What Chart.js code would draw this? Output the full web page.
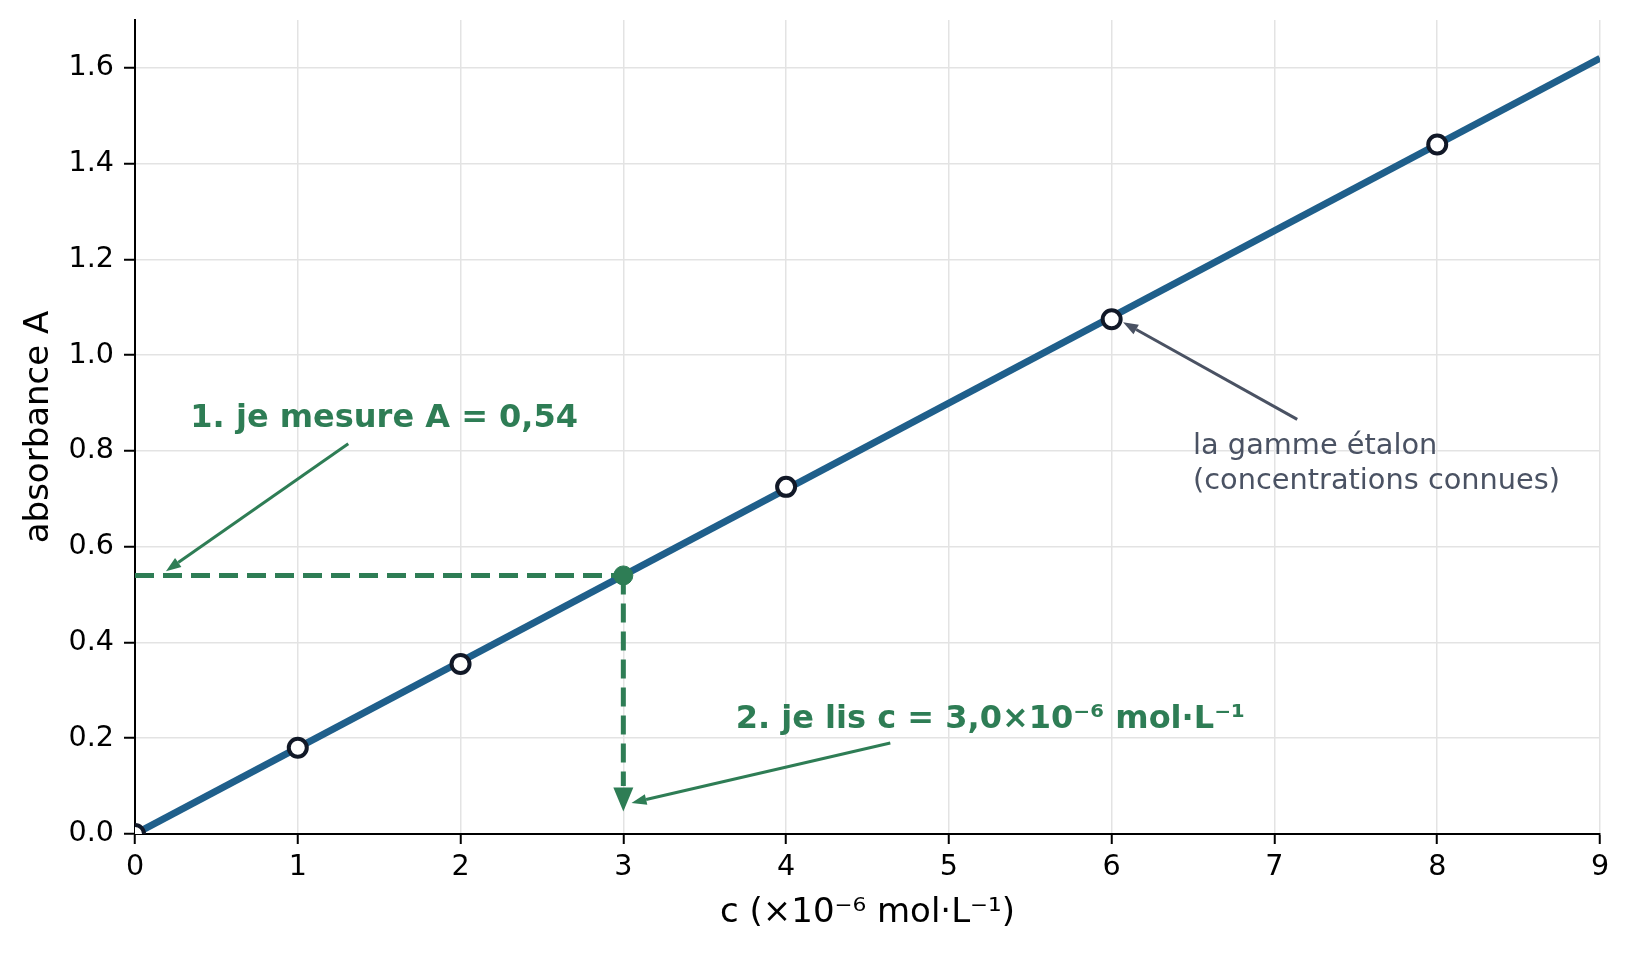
<!DOCTYPE html>
<html><head><meta charset="utf-8">
<script src="https://cdn.jsdelivr.net/npm/chart.js@4"></script>
<style>html,body{margin:0;padding:0;background:#fff}#wrap{width:1631px;height:953px;position:relative}</style>
</head><body><div id="wrap"><canvas id="c"></canvas></div>
<script>
// ---- data ----
const concentrations = [0, 1, 2, 4, 6, 8];
const absorbances = [0, 0.18, 0.355, 0.725, 1.075, 1.44];
const fitX = [0, 9];
const fitY = [0, 1.62];
const measuredA = 0.54;
const readC = 3.0;
const xTicks = [0, 1, 2, 3, 4, 5, 6, 7, 8, 9];
const yTicks = [0, 0.2, 0.4, 0.6, 0.8, 1.0, 1.2, 1.4, 1.6];
const xLabel = 'c (×10⁻⁶ mol·L⁻¹)';
const yLabel = 'absorbance A';
const note1 = '1. je mesure A = 0,54';
const note2 = '2. je lis c = 3,0×10⁻⁶ mol·L⁻¹';
const note3 = ['la gamme étalon', '(concentrations connues)'];

// ---- styles ----
const FONT = 'DejaVu Sans';
const BLUE = '#1f5f8b';
const GREEN = '#2e7d55';
const GRAY = '#4a5263';
const DARK = '#111827';

function arrow(ctx, x1, y1, x2, y2, color, lw, headLen, headW) {
  const ang = Math.atan2(y2 - y1, x2 - x1);
  const bx = x2 - headLen * Math.cos(ang), by = y2 - headLen * Math.sin(ang);
  ctx.save();
  ctx.strokeStyle = color; ctx.fillStyle = color; ctx.lineWidth = lw; ctx.setLineDash([]);
  if (lw > 0) { ctx.beginPath(); ctx.moveTo(x1, y1); ctx.lineTo(bx, by); ctx.stroke(); }
  ctx.beginPath(); ctx.moveTo(x2, y2);
  ctx.lineTo(bx + headW / 2 * Math.sin(ang), by - headW / 2 * Math.cos(ang));
  ctx.lineTo(bx - headW / 2 * Math.sin(ang), by + headW / 2 * Math.cos(ang));
  ctx.closePath(); ctx.fill();
  ctx.restore();
}

const notesPlugin = {
  id: 'notes',
  afterDatasetsDraw(chart) {
    const ctx = chart.ctx, xs = chart.scales.x, ys = chart.scales.y;
    const px = v => xs.getPixelForValue(v), py = v => ys.getPixelForValue(v);
    // arrow head of vertical dashed reading line
    arrow(ctx, px(readC), py(0.12), px(readC), py(0.047), GREEN, 0, 24, 20);
    // annotation arrows
    arrow(ctx, px(1.31), py(0.815), px(0.19), py(0.549), GREEN, 3, 15, 11);
    arrow(ctx, px(4.64), py(0.19), px(3.05), py(0.065), GREEN, 3, 15, 11);
    arrow(ctx, px(7.14), py(0.866), px(6.07), py(1.069), GRAY, 3, 15, 11);
    ctx.save();
    ctx.textBaseline = 'alphabetic'; ctx.textAlign = 'left';
    ctx.fillStyle = GREEN;
    ctx.font = 'bold 32px "' + FONT + '"';
    ctx.fillText(note1, px(0.34), py(0.849));
    ctx.fillText(note2, px(3.69), py(0.222));
    ctx.fillStyle = GRAY;
    ctx.font = '28.8px "' + FONT + '"';
    ctx.fillText(note3[0], px(6.5), py(0.793));
    ctx.fillText(note3[1], px(6.5), py(0.72));
    ctx.restore();
  }
};

const pts = (xa, ya) => xa.map((x, i) => ({x: x, y: ya[i]}));

new Chart(document.getElementById('c'), {
  type: 'scatter',
  data: {
    datasets: [
      { data: [{x: readC, y: measuredA}], order: 1, pointRadius: 9.5, pointBackgroundColor: GREEN,
        pointBorderColor: GREEN, pointBorderWidth: 1, showLine: false },
      { data: pts(concentrations, absorbances), order: 2, showLine: false, pointRadius: 9,
        pointBorderWidth: 4, pointBackgroundColor: '#ffffff', pointBorderColor: DARK, clip: 0 },
      { data: [{x: 0, y: measuredA}, {x: readC, y: measuredA}], order: 4, showLine: true,
        borderColor: GREEN, borderWidth: 5, borderDash: [19, 9], pointRadius: 0 },
      { data: [{x: readC, y: measuredA}, {x: readC, y: 0.1}], order: 4, showLine: true,
        borderColor: GREEN, borderWidth: 5, borderDash: [19, 9], pointRadius: 0 },
      { data: pts(fitX, fitY), order: 5, showLine: true, borderColor: BLUE, borderWidth: 7,
        pointRadius: 0, clip: 0 }
    ]
  },
  options: {
    responsive: true, maintainAspectRatio: false, animation: false,
    layout: { padding: { top: 20, right: 31, left: 0, bottom: 0 } },
    plugins: { legend: { display: false }, tooltip: { enabled: false } },
    scales: {
      x: {
        type: 'linear', min: 0, max: 9,
        afterBuildTicks: a => { a.ticks = xTicks.map(v => ({value: v})); },
        afterFit: s => { s.height = 119; },
        ticks: { font: { family: FONT, size: 28.6 }, color: '#000', padding: 6, maxRotation: 0,
                 autoSkip: false, callback: v => String(v) },
        grid: { color: '#e3e3e3', lineWidth: 1.5, tickColor: '#000', tickLength: 10, tickWidth: 2 },
        border: { color: '#000', width: 2 },
        title: { display: true, text: xLabel, color: '#000', font: { family: FONT, size: 34 },
                 padding: { top: 0, bottom: 19 } }
      },
      y: {
        type: 'linear', min: 0, max: 1.7,
        afterBuildTicks: a => { a.ticks = yTicks.map(v => ({value: v})); },
        afterFit: s => { s.width = 135; s.paddingTop = 0; s.paddingBottom = 0; },
        ticks: { font: { family: FONT, size: 28.6 }, color: '#000', padding: 10, autoSkip: false,
                 callback: v => Number(v).toFixed(1) },
        grid: { color: '#e3e3e3', lineWidth: 1.5, tickColor: '#000', tickLength: 11, tickWidth: 2 },
        border: { color: '#000', width: 2 },
        title: { display: true, text: yLabel, color: '#000', font: { family: FONT, size: 34 },
                 padding: { top: 19, bottom: 0 } }
      }
    }
  },
  plugins: [notesPlugin]
});
</script>
</body></html>
